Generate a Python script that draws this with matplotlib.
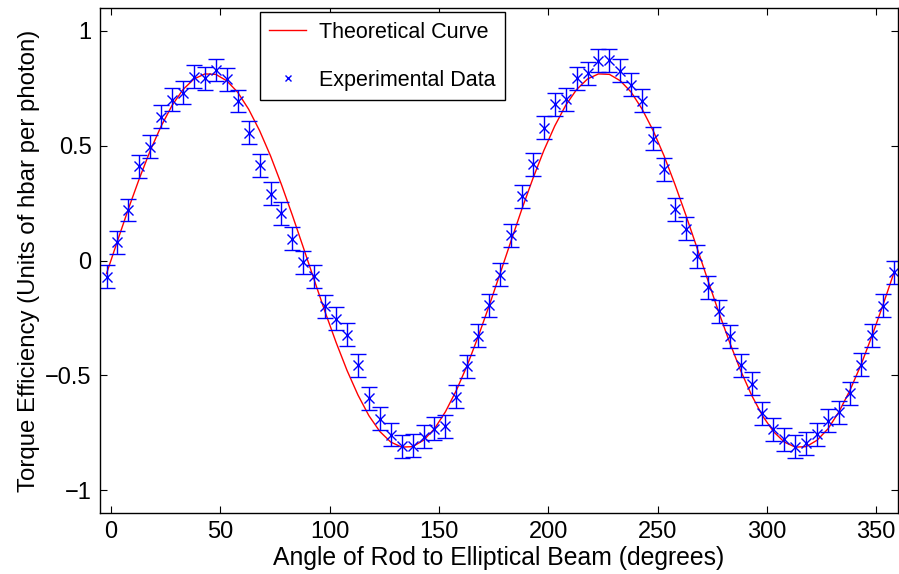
import matplotlib
matplotlib.use("Agg")
import matplotlib.pyplot as plt
import numpy as np

plt.rcParams['font.family'] = ['Liberation Sans', 'DejaVu Sans']

# angles (degrees) of the measurements
angles = [-2, 3, 8, 13, 18, 23, 28, 33, 38, 43, 48, 53, 58, 63, 68, 73, 78, 83,
          88, 93, 98, 103, 108, 113, 118, 123, 128, 133, 138, 143, 148, 153, 158,
          163, 168, 173, 178, 183, 188, 193, 198, 203, 208, 213, 218, 223, 228,
          233, 238, 243, 248, 253, 258, 263, 268, 273, 278, 283, 288, 293, 298,
          303, 308, 313, 318, 323, 328, 333, 338, 343, 348, 353, 358]

# measured torque efficiency
torque = [-0.07, 0.08, 0.22, 0.41, 0.495, 0.627, 0.70, 0.73, 0.80, 0.795,
          0.83, 0.79, 0.695, 0.557, 0.416, 0.29, 0.205, 0.095, -0.007, -0.068,
          -0.20, -0.253, -0.323, -0.457, -0.60, -0.69, -0.76, -0.81, -0.807,
          -0.767, -0.732, -0.723, -0.593, -0.46, -0.328, -0.196, -0.061, 0.109,
          0.28, 0.42, 0.579, 0.68, 0.703, 0.793, 0.815, 0.87, 0.873, 0.827,
          0.766, 0.696, 0.53, 0.397, 0.223, 0.138, 0.019, -0.117, -0.221, -0.33,
          -0.457, -0.537, -0.665, -0.735, -0.779, -0.811, -0.796, -0.757, -0.699,
          -0.661, -0.578, -0.454, -0.326, -0.197, -0.051]
err = 0.05

theory = [-0.057, 0.085, 0.225, 0.357, 0.479, 0.586, 0.676, 0.745, 0.791, 0.813,
          0.811, 0.783, 0.733, 0.659, 0.566, 0.456, 0.331, 0.197, 0.057, -0.085,
          -0.225, -0.357, -0.479, -0.586, -0.676, -0.745, -0.791, -0.813, -0.811,
          -0.783, -0.733, -0.659, -0.566, -0.456, -0.331, -0.197, -0.057, 0.085,
          0.225, 0.357, 0.479, 0.586, 0.676, 0.745, 0.791, 0.813, 0.811, 0.783,
          0.733, 0.659, 0.566, 0.456, 0.331, 0.197, 0.057, -0.085, -0.225,
          -0.357, -0.479, -0.586, -0.676, -0.745, -0.791, -0.813, -0.811, -0.783,
          -0.733, -0.659, -0.566, -0.456, -0.331, -0.197, -0.057]

fig = plt.figure(figsize=(8.99, 5.74), dpi=100)
ax = fig.add_axes([0.1112, 0.1063, 0.8877, 0.8797])

ax.plot(angles, theory, color='red', lw=1.0, label='Theoretical Curve')
ax.errorbar(angles, torque, yerr=err, fmt='none', ecolor='blue', elinewidth=1.0,
            capsize=5.5, capthick=1.0)
ax.plot(angles, torque, 'x', color='blue', ms=6.5, mew=1.0, label='Experimental Data')

ax.set_xlim(-5, 360)
ax.set_ylim(-1.1, 1.1)
ax.set_xticks([0, 50, 100, 150, 200, 250, 300, 350])
ax.set_yticks([-1, -0.5, 0, 0.5, 1])
ax.set_yticklabels(['\u22121', '\u22120.5', '0', '0.5', '1'])
ax.tick_params(direction='in', top=True, right=True, length=5, width=0.8,
               labelsize=17, pad=6)
for s in ax.spines.values():
    s.set_linewidth(1.0)

ax.set_xlabel('Angle of Rod to Elliptical Beam (degrees)', fontsize=17.8, labelpad=2)
ax.set_ylabel('Torque Efficiency (Units of hbar per photon)', fontsize=17.3, labelpad=4)

leg = ax.legend(loc='upper left', bbox_to_anchor=(0.2, 0.992), borderaxespad=0,
                fontsize=15.5, frameon=True, fancybox=False, edgecolor='black',
                framealpha=1, handlelength=1.7, labelspacing=1.25, borderpad=0.45,
                handletextpad=0.6, markerscale=0.75)
leg.get_frame().set_linewidth(1.0)

fig.savefig('out.png', dpi=100)
